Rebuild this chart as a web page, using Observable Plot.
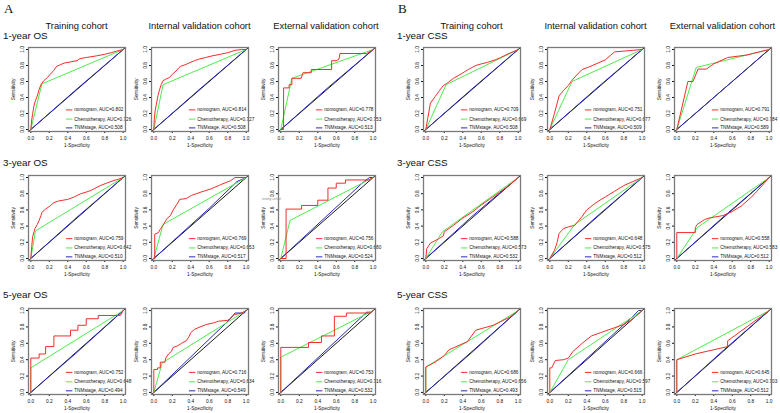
<!DOCTYPE html>
<html><head><meta charset="utf-8">
<script src="https://cdn.jsdelivr.net/npm/d3@7"></script>
<script src="https://cdn.jsdelivr.net/npm/@observablehq/plot@0.6"></script>
<style>
body{margin:0;background:#fff;}
#root{position:relative;width:780px;height:413px;background:#fff;font-family:Arial,"Liberation Sans",Helvetica,sans-serif;color:#111;overflow:hidden;}
.lbl{position:absolute;white-space:nowrap;line-height:1;}
.pn{position:absolute;}
</style></head>
<body><div id="root"></div>
<script>
// ---------- labels ----------
const cohorts = ["Training cohort", "Internal validation cohort", "External validation cohort"];
const rowsA = ["1-year OS", "3-year OS", "5-year OS"];
const rowsB = ["1-year CSS", "3-year CSS", "5-year CSS"];
const series = ["nomogram", "Chemotherapy", "TNMstage"];
const tickVals = [0, 0.2, 0.4, 0.6, 0.8, 1.0];

// AUC values [nomogram, chemotherapy, TNMstage], rows x cohorts
const aucA = [
  [[0.802, 0.726, 0.508], [0.814, 0.727, 0.508], [0.778, 0.753, 0.513]],
  [[0.759, 0.642, 0.510], [0.769, 0.653, 0.517], [0.756, 0.680, 0.524]],
  [[0.752, 0.648, 0.494], [0.716, 0.634, 0.549], [0.753, 0.716, 0.532]]
];
const aucB = [
  [[0.709, 0.669, 0.508], [0.751, 0.677, 0.509], [0.791, 0.784, 0.589]],
  [[0.588, 0.573, 0.532], [0.648, 0.575, 0.512], [0.558, 0.583, 0.512]],
  [[0.686, 0.656, 0.493], [0.666, 0.597, 0.515], [0.645, 0.703, 0.512]]
];

// ---------- ROC curves (1-specificity, sensitivity) ----------
// A: OS
const nomA1T = [[0,0],[0.01,0.12],[0.02,0.2],[0.035,0.3],[0.05,0.36],[0.07,0.42],[0.09,0.5],[0.11,0.56],[0.14,0.61],[0.18,0.65],[0.21,0.69],[0.25,0.74],[0.28,0.79],[0.32,0.81],[0.36,0.83],[0.43,0.845],[0.5,0.86],[0.53,0.885],[0.6,0.9],[0.71,0.92],[0.8,0.94],[0.87,0.96],[0.93,0.98],[1,1]];
const chemoA1T = [[0,0],[0.12,0.57],[1,1]];
const tnmA1T = [[0,0],[0.5,0.508],[1,1]];
const nomA1I = [[0,0],[0.005,0.12],[0.015,0.24],[0.03,0.33],[0.045,0.42],[0.06,0.49],[0.08,0.56],[0.1,0.61],[0.13,0.63],[0.17,0.65],[0.2,0.69],[0.24,0.73],[0.27,0.77],[0.29,0.79],[0.34,0.81],[0.38,0.83],[0.44,0.86],[0.49,0.88],[0.56,0.9],[0.63,0.92],[0.72,0.94],[0.8,0.96],[0.88,0.99],[0.95,1],[1,1]];
const chemoA1I = [[0,0],[0.1,0.56],[1,1]];
const tnmA1I = [[0,0],[0.5,0.508],[1,1]];
const nomA1E = [[0,0],[0.03,0],[0.03,0.52],[0.09,0.52],[0.09,0.56],[0.12,0.56],[0.12,0.64],[0.22,0.64],[0.24,0.71],[0.33,0.71],[0.33,0.75],[0.55,0.75],[0.55,0.86],[0.6,0.86],[0.63,0.88],[0.64,0.95],[0.93,0.95],[1,1]];
const chemoA1E = [[0,0],[0.12,0.64],[1,1]];
const tnmA1E = [[0,0],[0.5,0.513],[1,1]];

const nomA3T = [[0,0],[0.01,0.15],[0.02,0.27],[0.035,0.33],[0.045,0.37],[0.07,0.42],[0.09,0.47],[0.11,0.53],[0.12,0.57],[0.16,0.61],[0.21,0.65],[0.25,0.69],[0.3,0.71],[0.35,0.72],[0.4,0.73],[0.47,0.76],[0.54,0.8],[0.6,0.82],[0.65,0.84],[0.7,0.87],[0.75,0.9],[0.82,0.93],[0.89,0.96],[0.95,0.98],[1,1]];
const chemoA3T = [[0,0],[0.05,0.34],[1,1]];
const tnmA3T = [[0,0],[0.5,0.51],[1,1]];
const nomA3I = [[0,0],[0.01,0],[0.01,0.3],[0.05,0.32],[0.07,0.36],[0.1,0.41],[0.14,0.49],[0.18,0.53],[0.21,0.6],[0.25,0.67],[0.28,0.73],[0.35,0.74],[0.41,0.78],[0.51,0.82],[0.62,0.86],[0.72,0.91],[0.83,0.96],[0.88,1],[1,1]];
const chemoA3I = [[0,0],[0.1,0.42],[1,1]];
const tnmA3I = [[0,0],[0.6,0.62],[0.9,0.95],[1,1]];
const nomA3E = [[0,0],[0.057,0],[0.057,0.61],[0.225,0.61],[0.225,0.655],[0.4,0.655],[0.4,0.72],[0.51,0.72],[0.51,0.87],[0.6,0.87],[0.6,0.93],[0.7,0.93],[0.7,0.97],[0.95,0.97],[1,1]];
const chemoA3E = [[0,0],[0.1,0.47],[1,1]];
const tnmA3E = [[0,0],[0.9,0.95],[0.96,1],[1,1]];

const nomA5T = [[0,0],[0,0.42],[0.09,0.42],[0.09,0.47],[0.16,0.47],[0.16,0.56],[0.25,0.56],[0.25,0.69],[0.43,0.69],[0.43,0.76],[0.51,0.76],[0.51,0.82],[0.6,0.82],[0.6,0.9],[0.73,0.9],[0.73,0.94],[0.97,0.94],[1,1]];
const chemoA5T = [[0,0],[0,0.3],[1,1]];
const tnmA5T = [[0,0],[0.5,0.49],[1,1]];
const nomA5I = [[0,0],[0,0.28],[0.04,0.28],[0.04,0.3],[0.07,0.3],[0.07,0.37],[0.12,0.37],[0.13,0.42],[0.16,0.47],[0.19,0.5],[0.21,0.55],[0.26,0.57],[0.3,0.6],[0.35,0.63],[0.38,0.68],[0.4,0.73],[0.44,0.77],[0.5,0.8],[0.57,0.83],[0.65,0.85],[0.7,0.87],[0.8,0.88],[0.82,0.9],[0.87,0.95],[0.95,0.97],[1,1]];
const chemoA5I = [[0,0],[0.09,0.36],[1,1]];
const tnmA5I = [[0,0],[0.83,0.9],[0.88,0.97],[0.98,0.97],[1,1]];
const nomA5E = [[0,0],[0,0.55],[0.3,0.55],[0.3,0.61],[0.44,0.61],[0.44,0.69],[0.58,0.69],[0.58,0.93],[0.71,0.93],[0.71,0.97],[0.97,0.97],[1,1]];
const chemoA5E = [[0,0],[0,0.43],[1,1]];
const tnmA5E = [[0,0],[0.93,0.98],[0.97,0.98],[1,1]];

// B: CSS
const nomB1T = [[0,0],[0.05,0.33],[0.1,0.41],[0.15,0.49],[0.19,0.55],[0.22,0.57],[0.3,0.64],[0.39,0.7],[0.46,0.75],[0.54,0.8],[0.6,0.82],[0.67,0.84],[0.75,0.87],[0.81,0.9],[0.9,0.95],[1,1]];
const chemoB1T = [[0,0],[0.22,0.56],[1,1]];
const tnmB1T = [[0,0],[0.5,0.508],[1,1]];
const nomB1I = [[0,0],[0.05,0.2],[0.1,0.42],[0.15,0.49],[0.2,0.55],[0.23,0.6],[0.29,0.68],[0.35,0.75],[0.42,0.78],[0.5,0.82],[0.6,0.87],[0.7,0.97],[0.9,0.99],[1,1]];
const chemoB1I = [[0,0],[0.24,0.6],[1,1]];
const tnmB1I = [[0,0],[0.5,0.509],[1,1]];
const nomB1E = [[0,0],[0.12,0.6],[0.175,0.6],[0.23,0.755],[0.32,0.755],[0.4,0.82],[0.55,0.9],[0.75,0.93],[1,1]];
const chemoB1E = [[0,0],[0.21,0.775],[1,1]];
const tnmB1E = [[0,0],[0.5,0.5],[1,1]];

const nomB3T = [[0,0],[0.01,0.12],[0.05,0.19],[0.1,0.22],[0.15,0.25],[0.19,0.28],[0.2,0.33],[0.3,0.41],[0.4,0.5],[0.5,0.57],[0.6,0.66],[0.7,0.74],[0.8,0.82],[0.9,0.9],[1,1]];
const chemoB3T = [[0,0],[0.18,0.33],[1,1]];
const tnmB3T = [[0,0],[0.5,0.52],[1,1]];
const nomB3I = [[0,0],[0.05,0.1],[0.08,0.2],[0.1,0.31],[0.15,0.37],[0.2,0.39],[0.27,0.41],[0.35,0.52],[0.4,0.6],[0.5,0.69],[0.6,0.76],[0.7,0.83],[0.8,0.9],[0.9,0.95],[1,1]];
const chemoB3I = [[0,0],[0.27,0.42],[1,1]];
const tnmB3I = [[0,0],[0.5,0.51],[1,1]];
const nomB3E = [[0,0],[0,0.32],[0.2,0.32],[0.2,0.38],[0.22,0.42],[0.3,0.48],[0.35,0.5],[0.5,0.53],[0.6,0.58],[0.7,0.65],[0.8,0.75],[0.9,0.87],[1,1]];
const chemoB3E = [[0,0],[0.22,0.38],[1,1]];
const tnmB3E = [[0,0],[0.5,0.51],[1,1]];

const nomB5T = [[0,0],[0,0.31],[0.1,0.37],[0.2,0.45],[0.25,0.52],[0.45,0.62],[0.54,0.76],[0.73,0.82],[0.91,0.92],[1,1]];
const chemoB5T = [[0,0],[0,0.31],[1,1]];
const tnmB5T = [[0,0],[0.5,0.49],[1,1]];
const nomB5I = [[0,0],[0,0.3],[0.02,0.3],[0.06,0.39],[0.15,0.4],[0.2,0.42],[0.25,0.5],[0.35,0.6],[0.45,0.69],[0.55,0.73],[0.7,0.79],[0.8,0.83],[0.9,0.9],[1,1]];
const chemoB5I = [[0,0],[0.2,0.4],[1,1]];
const tnmB5I = [[0,0],[0.9,0.93],[0.96,1],[1,1]];
const nomB5E = [[0,0],[0,0.4],[0.2,0.47],[0.55,0.56],[0.55,0.63],[1,1]];
const chemoB5E = [[0,0],[0,0.4],[1,1]];
const tnmB5E = [[0,0],[0.5,0.51],[1,1]];

const curvesA = [
  [[nomA1T, chemoA1T, tnmA1T], [nomA1I, chemoA1I, tnmA1I], [nomA1E, chemoA1E, tnmA1E]],
  [[nomA3T, chemoA3T, tnmA3T], [nomA3I, chemoA3I, tnmA3I], [nomA3E, chemoA3E, tnmA3E]],
  [[nomA5T, chemoA5T, tnmA5T], [nomA5I, chemoA5I, tnmA5I], [nomA5E, chemoA5E, tnmA5E]]
];
const curvesB = [
  [[nomB1T, chemoB1T, tnmB1T], [nomB1I, chemoB1I, tnmB1I], [nomB1E, chemoB1E, tnmB1E]],
  [[nomB3T, chemoB3T, tnmB3T], [nomB3I, chemoB3I, tnmB3I], [nomB3E, chemoB3E, tnmB3E]],
  [[nomB5T, chemoB5T, tnmB5T], [nomB5I, chemoB5I, tnmB5I], [nomB5E, chemoB5E, tnmB5E]]
];

// ---------- styling / layout ----------
const colors = ["#f42c2c", "#4dec4d", "#2a2ac0"];
const colLeftA = [28, 151, 277.5];
const colLeftB = [423, 547, 674];
const rowTop = [47, 175, 308];
const rowH = [84, 85, 86];
const boxW = 97;
const legendY = [0.245, 0.13, 0.02];
const legendX = [0.38, 0.45, 0.47];
const diag = [-0.025, 1.025];

const root = document.getElementById("root");
function addLabel(text, left, top, size, extra) {
  const d = document.createElement("div");
  d.className = "lbl";
  d.textContent = text;
  d.style.left = left + "px";
  d.style.top = top + "px";
  d.style.fontSize = size + "px";
  if (extra) Object.assign(d.style, extra);
  root.appendChild(d);
  return d;
}

function panel(curves, auc, H) {
  const ml = 22, mr = 3, mt = 3, mb = 22;
  const [nom, chemo, tnm] = curves;
  const legend = series.map((s, i) => ({s, label: `${s}, AUC=${auc[i].toFixed(3)}`, y: legendY[i]}));
  return Plot.plot({
    width: boxW + ml + mr,
    height: H + mt + mb,
    marginLeft: ml, marginRight: mr, marginTop: mt, marginBottom: mb,
    x: {domain: diag},
    y: {domain: diag},
    color: {domain: series, range: colors},
    style: {fontFamily: "Arial, 'Liberation Sans', sans-serif", fontSize: "4.8px", background: "transparent", color: "#111", overflow: "visible"},
    marks: [
      Plot.axisX({ticks: tickVals, tickFormat: d3.format(".1f"), tickSize: 2, tickPadding: 3, label: "1-Specificity", labelAnchor: "center", labelArrow: "none", labelOffset: 15.5}),
      Plot.axisY({ticks: tickVals, tickFormat: d3.format(".1f"), tickSize: 2, tickPadding: 3, tickRotate: -90, label: "Sensitivity", labelAnchor: "center", labelArrow: "none", labelOffset: 17}),
      Plot.line(diag, {x: d => d, y: d => d, stroke: "#000", strokeWidth: 0.9}),
      Plot.line(tnm, {x: d => d[0], y: d => d[1], stroke: colors[2], strokeWidth: 1}),
      Plot.line(chemo, {x: d => d[0], y: d => d[1], stroke: colors[1], strokeWidth: 1}),
      Plot.line(nom, {x: d => d[0], y: d => d[1], stroke: colors[0], strokeWidth: 1}),
      Plot.link(legend, {x1: legendX[0], x2: legendX[1], y1: "y", y2: "y", stroke: "s", strokeWidth: 1}),
      Plot.text(legend, {x: legendX[2], y: "y", text: "label", textAnchor: "start", fontSize: 4.7, fill: "#111"}),
      Plot.frame({stroke: "#7a7a7a", strokeWidth: 1.3})
    ]
  });
}

function drawGroup(letter, letterLeft, colLeft, rows, curves, aucs) {
  addLabel(letter, letterLeft, 2, 13, {fontFamily: "'Times New Roman','Liberation Serif',serif"});
  cohorts.forEach((c, j) => {
    const d = addLabel(c, colLeft[j] + boxW / 2, 21, 9.4);
    d.style.transform = "translateX(-50%)";
  });
  rows.forEach((r, i) => {
    addLabel(r, letterLeft - 1, [31, 158, 290][i], 9.8);
    colLeft.forEach((x, j) => {
      const svg = panel(curves[i][j], aucs[i][j], rowH[i]);
      const wrap = document.createElement("div");
      wrap.className = "pn";
      wrap.style.left = (x - 22) + "px";
      wrap.style.top = (rowTop[i] - 3) + "px";
      wrap.appendChild(svg);
      root.appendChild(wrap);
    });
  });
}

drawGroup("A", 4, colLeftA, rowsA, curvesA, aucA);
drawGroup("B", 398, colLeftB, rowsB, curvesB, aucB);
addLabel("testing cohort", 262, 198, 3.2, {color: "#888"});
</script>
</body></html>
